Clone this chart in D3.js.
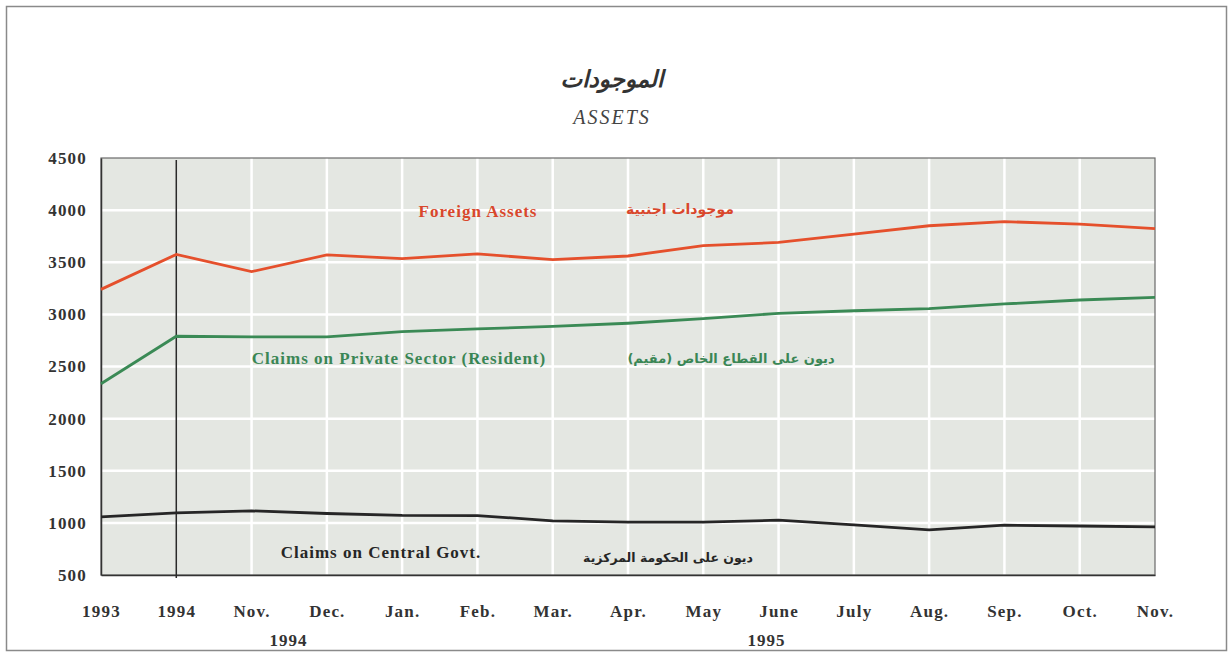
<!DOCTYPE html>
<meta charset="utf-8">
<style>
  html, body { margin: 0; background: #fff; overflow: hidden; }
  .axis text { font: bold 17px "Liberation Serif"; letter-spacing: 1.2px; fill: #333; }
  .lab { font: bold 17px "Liberation Serif"; letter-spacing: 1px; }
  .ar { font: bold 14px "DejaVu Sans"; }
</style>
<svg></svg>
<script src="https://d3js.org/d3.v7.min.js"></script>
<script>

var categories = ["1993", "1994", "Nov.", "Dec.", "Jan.", "Feb.", "Mar.", "Apr.", "May", "June", "July", "Aug.", "Sep.", "Oct.", "Nov. 95"];
var tickLabels = ["1993", "1994", "Nov.", "Dec.", "Jan.", "Feb.", "Mar.", "Apr.", "May", "June", "July", "Aug.", "Sep.", "Oct.", "Nov."];
var yTicks = [500, 1000, 1500, 2000, 2500, 3000, 3500, 4000, 4500];

var foreignAssets = [3240, 3575, 3410, 3570, 3535, 3580, 3525, 3560, 3660, 3690, 3770, 3850, 3890, 3865, 3822];
var privateClaims = [2335, 2790, 2785, 2785, 2835, 2860, 2885, 2915, 2960, 3010, 3035, 3055, 3100, 3138, 3163];
var govtClaims = [1058, 1096, 1115, 1090, 1072, 1070, 1020, 1008, 1008, 1026, 980, 932, 978, 970, 962];

var W = 1229, H = 655;
var plotLeft = 101, plotRight = 1155, plotTop = 158, plotBottom = 575;

var svg = d3.select("svg").attr("width", W).attr("height", H);

// outer frame
svg.append("rect")
    .attr("x", 6.5).attr("y", 6.5)
    .attr("width", 1220).attr("height", 644)
    .attr("fill", "none").attr("stroke", "#8a8a8a").attr("stroke-width", 1.5);

var x = d3.scalePoint().domain(categories).range([plotLeft, plotRight]);
var y = d3.scaleLinear().domain([500, 4500]).range([plotBottom, plotTop]);

// plot background
svg.append("rect")
    .attr("x", plotLeft).attr("y", plotTop)
    .attr("width", plotRight - plotLeft).attr("height", plotBottom - plotTop)
    .attr("fill", "#e4e7e2");

// white grid
svg.append("g").selectAll("line")
    .data(yTicks.slice(1, -1))
  .enter().append("line")
    .attr("x1", plotLeft).attr("x2", plotRight)
    .attr("y1", function(d) { return y(d); })
    .attr("y2", function(d) { return y(d); })
    .attr("stroke", "#fff").attr("stroke-width", 2.5);

svg.append("g").selectAll("line")
    .data(categories.slice(2, -1))
  .enter().append("line")
    .attr("x1", function(d) { return x(d); })
    .attr("x2", function(d) { return x(d); })
    .attr("y1", plotTop).attr("y2", plotBottom)
    .attr("stroke", "#fff").attr("stroke-width", 2.5);

// plot border
svg.append("rect")
    .attr("x", plotLeft).attr("y", plotTop)
    .attr("width", plotRight - plotLeft).attr("height", plotBottom - plotTop)
    .attr("fill", "none").attr("stroke", "#6a6a6a").attr("stroke-width", 1.2);

// y axis
var yAxis = svg.append("g")
    .attr("class", "axis")
    .attr("transform", "translate(" + plotLeft + ",0)")
    .call(d3.axisLeft(y).tickValues(yTicks).tickSize(0).tickPadding(14).tickFormat(d3.format("d")));
yAxis.select(".domain").attr("stroke", "#333").attr("stroke-width", 1.5);

// x axis
var xAxis = svg.append("g")
    .attr("class", "axis")
    .attr("transform", "translate(0," + plotBottom + ")")
    .call(d3.axisBottom(x).tickSize(0).tickPadding(30)
      .tickFormat(function(d, i) { return tickLabels[i]; }));
xAxis.select(".domain").attr("stroke", "#333").attr("stroke-width", 1.5);

svg.append("text").attr("class", "lab").attr("x", x("Nov.") + 37).attr("y", 646)
    .attr("text-anchor", "middle").attr("fill", "#333").text("1994");
svg.append("text").attr("class", "lab").attr("x", x("June") - 12).attr("y", 646)
    .attr("text-anchor", "middle").attr("fill", "#333").text("1995");

// 1994 divider
svg.append("line")
    .attr("x1", x("1994")).attr("x2", x("1994"))
    .attr("y1", plotTop + 2).attr("y2", plotBottom + 3)
    .attr("stroke", "#2a2a2a").attr("stroke-width", 1.5);

var line = d3.line()
    .x(function(d, i) { return x(categories[i]); })
    .y(function(d) { return y(d); });

var series = [
  { values: foreignAssets, color: "#e5502c" },
  { values: privateClaims, color: "#3a8a55" },
  { values: govtClaims, color: "#262626" }
];

svg.append("g").selectAll("path")
    .data(series)
  .enter().append("path")
    .attr("d", function(d) { return line(d.values); })
    .attr("fill", "none")
    .attr("stroke", function(d) { return d.color; })
    .attr("stroke-width", 2.8);

// titles
svg.append("text").attr("class", "ar")
    .attr("x", 612).attr("y", 87).attr("text-anchor", "middle")
    .style("font-size", "23px").style("font-style", "italic").attr("fill", "#333")
    .text("الموجودات");
svg.append("text")
    .attr("x", 612).attr("y", 124).attr("text-anchor", "middle")
    .style("font", "italic 20px 'Liberation Serif'").style("letter-spacing", "2px").attr("fill", "#444")
    .text("ASSETS");

// series labels
svg.append("text").attr("class", "lab").attr("x", 478).attr("y", 217)
    .attr("text-anchor", "middle").attr("fill", "#d9472c").text("Foreign Assets");
svg.append("text").attr("class", "ar").attr("x", 680).attr("y", 214)
    .attr("text-anchor", "middle").attr("fill", "#d9472c").text("موجودات اجنبية");

svg.append("text").attr("class", "lab").attr("x", 399).attr("y", 364)
    .attr("text-anchor", "middle").attr("fill", "#3a8655").text("Claims on Private Sector (Resident)");
svg.append("text").attr("class", "ar").attr("x", 731).attr("y", 363)
    .style("font-size", "13px")
    .attr("text-anchor", "middle").attr("fill", "#3a8655").text("ديون على القطاع الخاص (مقيم)");

svg.append("text").attr("class", "lab").attr("x", 381).attr("y", 558)
    .attr("text-anchor", "middle").attr("fill", "#262626").text("Claims on Central Govt.");
svg.append("text").attr("class", "ar").attr("x", 668).attr("y", 562)
    .style("font-size", "12.5px")
    .attr("text-anchor", "middle").attr("fill", "#262626").text("ديون على الحكومة المركزية");

</script>
